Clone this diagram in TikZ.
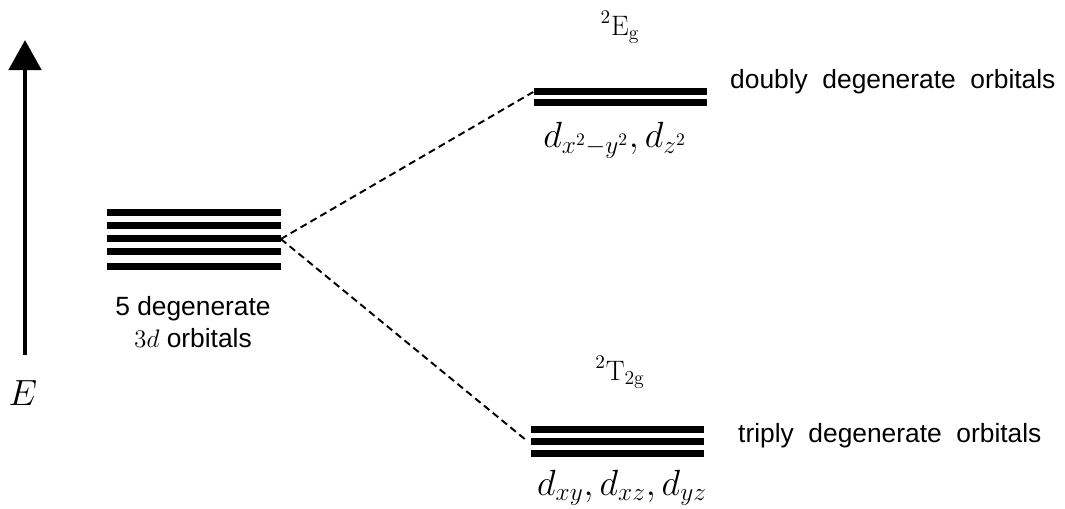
\documentclass[tikz,border=0pt]{standalone}
\usepackage{fontspec}
\setsansfont{Liberation Sans}
\usetikzlibrary{arrows.meta,positioning}

\tikzset{
  level/.style={line width=0.14cm},
  stack/.style={inner sep=0pt,minimum width=3.46cm,minimum height=#1},
  txt/.style={font=\sffamily\fontsize{15}{18}\selectfont},
  sym/.style={font=\fontsize{20}{22}\selectfont,anchor=base},
  term/.style={font=\fontsize{16}{18}\selectfont,anchor=base},
  split/.style={line width=1.1pt,dash pattern=on 4pt off 2.5pt},
}

\begin{document}
\begin{tikzpicture}[x=0.02cm,y=-0.02cm]
  \useasboundingbox (0,0) rectangle (1065,508);
  % energy axis
  \coordinate (ebot) at (25,355);
  \coordinate (etop) at (25,40);
  \draw[line width=0.1cm,-{Triangle[length=0.6cm,width=0.64cm]}] (ebot) -- (etop);
  \node[font=\fontsize{22}{24}\selectfont] (elbl) at (23,393) {$E$};

  % free ion levels
  \node[stack=1.24cm] (free) at (194,239) {};
  \foreach \y in {212,225.5,238.5,251.5,266.5}
    \draw[level] (107,\y) -- (281,\y);
  \node[txt,align=center] (freelbl) at (193,322) {5 degenerate\\$3d$ orbitals};

  % eg levels
  \node[stack=0.38cm] (eg) at (620,97) {};
  \foreach \y in {91,102.5}
    \draw[level] (534,\y) -- (707,\y);
  \node[term] (egterm) at (620,35) {$^2\mathrm{E_g}$};
  \node[sym] (egsym) at (615,147) {$d_{x^2-y^2},d_{z^2}$};
  \node[txt,anchor=west] (egtxt) at (724,82) {doubly\ \ degenerate\ \ orbitals};

  % t2g levels
  \node[stack=0.64cm] (tg) at (618,441) {};
  \foreach \y in {429,441,453}
    \draw[level] (531,\y) -- (704,\y);
  \node[term] (tgterm) at (620,380) {$^2\mathrm{T_{2g}}$};
  \node[sym] (tgsym) at (622,495) {$d_{xy},d_{xz},d_{yz}$};
  \node[txt,anchor=west] (tgtxt) at (732,436) {triply\ \ degenerate\ \ orbitals};

  % splitting
  \draw[split] (free.east) -- ([yshift=0.1cm]eg.west);
  \draw[split] (free.east) -- ([xshift=-0.08cm]tg.west);
\end{tikzpicture}
\end{document}
